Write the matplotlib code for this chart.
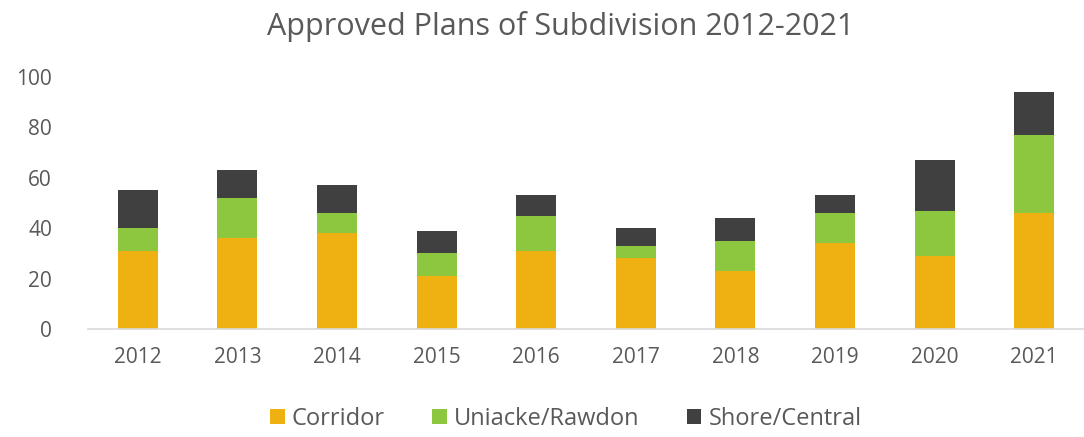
import matplotlib
matplotlib.use("Agg")
import matplotlib.pyplot as plt
import numpy as np

years = ["2012", "2013", "2014", "2015", "2016", "2017", "2018", "2019", "2020", "2021"]
corridor = [31, 36, 38, 21, 31, 28, 23, 34, 29, 46]
uniacke_rawdon = [9, 16, 8, 9, 14, 5, 12, 12, 18, 31]
shore_central = [15, 11, 11, 9, 8, 7, 9, 7, 20, 17]

C = ["#EEB111", "#8DC63F", "#404040"]
TXT = "#595959"

plt.rcParams.update({
    "font.family": ["Open Sans", "DejaVu Sans"],
    "font.size": 14,
})

fig = plt.figure(figsize=(10.84, 4.37), dpi=100)
ax = fig.add_axes([88 / 1084, 108 / 437, 996 / 1084, 252 / 437])

x = np.arange(len(years))
w = 0.4
b1 = np.array(corridor)
b2 = b1 + np.array(uniacke_rawdon)
ax.bar(x, corridor, w, color=C[0], label="Corridor")
ax.bar(x, uniacke_rawdon, w, bottom=b1, color=C[1], label="Uniacke/Rawdon")
ax.bar(x, shore_central, w, bottom=b2, color=C[2], label="Shore/Central")

ax.set_xlim(-0.5, len(years) - 0.5)
ax.set_ylim(0, 100)
ax.set_yticks(range(0, 101, 20))
ax.set_xticks(x)
ax.set_xticklabels(years)
ax.tick_params(axis="both", length=0, colors=TXT, labelsize=15)
ax.tick_params(axis="x", pad=13)
ax.tick_params(axis="y", pad=26)
for s in ["top", "right", "left"]:
    ax.spines[s].set_visible(False)
ax.spines["bottom"].set_color("#D9D9D9")
ax.spines["bottom"].set_linewidth(1.2)

fig.suptitle("Approved Plans of Subdivision 2012-2021", x=0.517, y=0.975, fontsize=22, color=TXT)
fig.legend(loc="lower center", bbox_to_anchor=(0.522, -0.035), ncol=3, frameon=False,
           handlelength=0.62, handleheight=0.62, handletextpad=0.3, columnspacing=2.0,
           labelcolor=TXT, fontsize=17)

fig.savefig("out.png", dpi=100)
